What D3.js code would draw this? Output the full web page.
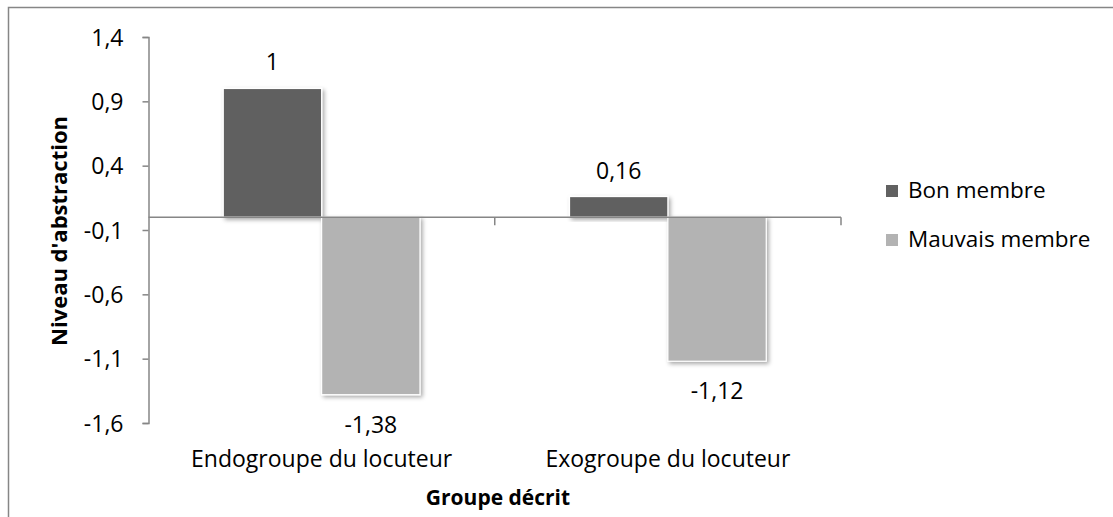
<!DOCTYPE html>
<html>
<head>
<meta charset="utf-8">
<script src="https://cdn.jsdelivr.net/npm/d3@7"></script>
<style>
  body { margin: 0; background: #fff; }
  text { font-family: "Open Sans", sans-serif; fill: #000; }
</style>
</head>
<body>
<div id="chart"></div>
<script>
var categories = ['Endogroupe du locuteur', 'Exogroupe du locuteur'];
var seriesNames = ['Bon membre', 'Mauvais membre'];
var bonValues = [1, 0.16];
var mauvaisValues = [-1.38, -1.12];
var tickValues = [1.4, 0.9, 0.4, -0.1, -0.6, -1.1, -1.6];
var colors = ['#616161', '#b3b3b3'];

var width = 1113, height = 517;
var plot = {left: 148.5, right: 841, top: 37, bottom: 423};

// number as it is written in French: comma decimal, plain hyphen
function fr(v) { return String(v).replace('.', ','); }

var svg = d3.select('#chart').append('svg')
  .attr('width', width)
  .attr('height', height);

var defs = svg.append('defs');
var f = defs.append('filter').attr('id', 'shadow')
  .attr('x', '-20%').attr('y', '-20%').attr('width', '140%').attr('height', '140%');
f.append('feDropShadow')
  .attr('dx', 2).attr('dy', 2).attr('stdDeviation', 2)
  .attr('flood-color', '#000').attr('flood-opacity', 0.35);

// outer frame
svg.append('rect')
  .attr('x', 8.5).attr('y', 7.5)
  .attr('width', 1120).attr('height', 520)
  .attr('fill', 'none').attr('stroke', '#868686').attr('stroke-width', 1.5);

var y = d3.scaleLinear().domain([-1.6, 1.4]).range([plot.bottom, plot.top]);
var x0 = d3.scaleBand().domain(categories).range([plot.left, plot.right]).padding(0);
var x1 = d3.scaleBand().domain(seriesNames).range([0, x0.bandwidth()])
  .paddingInner(0).paddingOuter(0.76);

// y axis
var yAxis = d3.axisLeft(y).tickValues(tickValues).tickSize(6)
  .tickFormat(function(d) { return fr(d); });
var gy = svg.append('g').attr('transform', 'translate(' + plot.left + ',0)').call(yAxis);
gy.select('.domain').attr('stroke', '#868686').attr('stroke-width', 1.5);
gy.selectAll('.tick line').attr('stroke', '#868686').attr('stroke-width', 1.5);
gy.selectAll('.tick text')
  .attr('x', -25).attr('dy', '0.35em')
  .style('font-size', '23px').style('font-family', '"Open Sans", sans-serif');

var data = categories.map(function(c, i) {
  return {cat: c, vals: [{s: seriesNames[0], v: bonValues[i]}, {s: seriesNames[1], v: mauvaisValues[i]}]};
});

var groups = svg.selectAll('.grp').data(data).enter().append('g')
  .attr('class', 'grp')
  .attr('transform', function(d) { return 'translate(' + x0(d.cat) + ',0)'; });

groups.selectAll('rect').data(function(d) { return d.vals; }).enter().append('rect')
  .attr('x', function(d) { return x1(d.s); })
  .attr('width', x1.bandwidth())
  .attr('y', function(d) { return y(Math.max(0, d.v)); })
  .attr('height', function(d) { return Math.abs(y(d.v) - y(0)); })
  .attr('fill', function(d, i) { return colors[i]; })
  .attr('stroke', '#fff').attr('stroke-width', 1.2)
  .attr('filter', 'url(#shadow)');

groups.selectAll('.lbl').data(function(d) { return d.vals; }).enter().append('text')
  .attr('class', 'lbl')
  .attr('x', function(d) { return x1(d.s) + x1.bandwidth() / 2; })
  .attr('y', function(d) { return d.v >= 0 ? y(d.v) - 18 : y(d.v) + 38; })
  .attr('text-anchor', 'middle')
  .style('font-size', '23px')
  .text(function(d) { return fr(d.v); });

// x axis at zero
var gx = svg.append('g').attr('transform', 'translate(0,' + y(0) + ')');
gx.append('path')
  .attr('d', 'M' + plot.left + ',0H' + plot.right)
  .attr('stroke', '#868686').attr('stroke-width', 1.5).attr('fill', 'none');
var bounds = [x0.range()[0] + x0.bandwidth(), x0.range()[1]];
gx.selectAll('.bt').data(bounds).enter().append('line')
  .attr('x1', function(d) { return d; }).attr('x2', function(d) { return d; })
  .attr('y1', 0).attr('y2', 8)
  .attr('stroke', '#868686').attr('stroke-width', 1.5);

// category labels
svg.selectAll('.cat').data(categories).enter().append('text')
  .attr('class', 'cat')
  .attr('x', function(d) { return x0(d) + x0.bandwidth() / 2; })
  .attr('y', 467)
  .attr('text-anchor', 'middle')
  .style('font-size', '23px')
  .text(function(d) { return d; });

// axis titles
svg.append('text')
  .attr('x', 498).attr('y', 505)
  .attr('text-anchor', 'middle')
  .style('font-size', '21px').style('font-weight', 'bold')
  .text('Groupe décrit');

svg.append('text')
  .attr('transform', 'translate(67,231) rotate(-90)')
  .attr('text-anchor', 'middle')
  .style('font-size', '22px').style('font-weight', 'bold')
  .text("Niveau d'abstraction");

// legend
var legend = svg.selectAll('.leg').data(seriesNames).enter().append('g')
  .attr('class', 'leg')
  .attr('transform', function(d, i) { return 'translate(886,' + (185 + i * 49) + ')'; });
legend.append('rect').attr('width', 12).attr('height', 12)
  .attr('fill', function(d, i) { return colors[i]; });
legend.append('text').attr('x', 22).attr('y', 13)
  .style('font-size', '22.5px')
  .text(function(d) { return d; });
</script>
</body>
</html>
